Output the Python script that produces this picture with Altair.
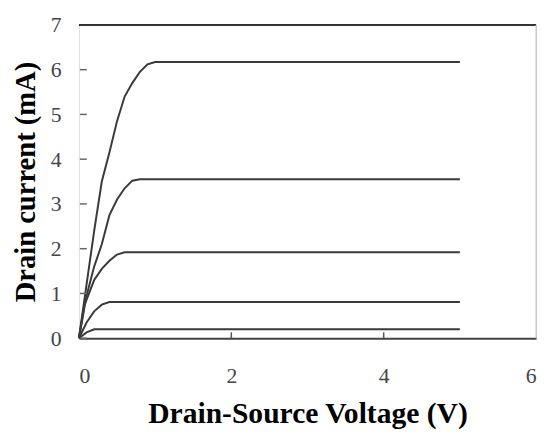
import altair as alt
import pandas as pd

# Curve data (Vds in V, Id in mA)
vds_1 = [0, 0.1, 0.2, 5]
id_1 = [0, 0.13, 0.2, 0.2]
vds_2 = [0, 0.1, 0.2, 0.3, 0.4, 5]
id_2 = [0, 0.35, 0.6, 0.75, 0.81, 0.81]
vds_3 = [0, 0.07, 0.2, 0.3, 0.4, 0.5, 0.6, 5]
id_3 = [0, 0.73, 1.3, 1.55, 1.73, 1.87, 1.92, 1.92]
vds_4 = [0, 0.1, 0.2, 0.3, 0.4, 0.5, 0.6, 0.7, 0.8, 5]
id_4 = [0, 0.95, 1.6, 2.1, 2.75, 3.1, 3.35, 3.52, 3.55, 3.55]
vds_5 = [0, 0.1, 0.2, 0.3, 0.4, 0.5, 0.6, 0.7, 0.8, 0.9, 1.0, 5]
id_5 = [0, 1.2, 2.4, 3.5, 4.15, 4.85, 5.4, 5.7, 5.95, 6.12, 6.17, 6.17]

x_ticks = [0, 2, 4, 6]
y_ticks = [0, 1, 2, 3, 4, 5, 6, 7]
x_inner_ticks = [2, 4]
y_inner_ticks = [0, 1, 2, 3, 4, 5, 6]

rows = []
for k, (xs, ys) in enumerate([(vds_1, id_1), (vds_2, id_2), (vds_3, id_3), (vds_4, id_4), (vds_5, id_5)]):
    for xv, yv in zip(xs, ys):
        rows.append({"curve": k, "vds": xv, "id": yv})
df = pd.DataFrame(rows)

FONT = "Liberation Serif"
xscale = alt.Scale(domain=[0, 6], nice=False, zero=True)
yscale = alt.Scale(domain=[0, 7], nice=False, zero=True)

base = alt.Chart(df)

lines = base.mark_line(color="#3a3a3a", strokeWidth=2).encode(
    x=alt.X("vds:Q", scale=xscale,
            axis=alt.Axis(values=x_ticks, format="d", title="Drain-Source Voltage (V)",
                          grid=False, ticks=False, domain=True,
                          domainColor="#444444", domainWidth=2,
                          labelFont=FONT, labelFontSize=22, labelColor="#444444",
                          labelPadding=28,
                          titleFont=FONT, titleFontSize=30, titleFontWeight="bold",
                          titleColor="#000000", titlePadding=13)),
    y=alt.Y("id:Q", scale=yscale,
            axis=alt.Axis(values=y_ticks, format="d", title="Drain current (mA)",
                          grid=False, ticks=False, domain=False,
                          labelFont=FONT, labelFontSize=22, labelColor="#444444",
                          labelPadding=18,
                          titleFont=FONT, titleFontSize=29, titleFontWeight="bold",
                          titleColor="#000000", titlePadding=10)),
    detail="curve:N",
)

top_line = alt.Chart(pd.DataFrame({"y": [7]})).mark_rule(color="#333333", strokeWidth=2).encode(
    y=alt.Y("y:Q", scale=yscale), x=alt.value(0), x2=alt.value(464)
)
right_line = alt.Chart(pd.DataFrame({"x": [6]})).mark_rule(color="#bbbbbb", strokeWidth=1).encode(
    x=alt.X("x:Q", scale=xscale), y=alt.value(0), y2=alt.value(318)
)
y_tick_marks = alt.Chart(pd.DataFrame({"y": y_inner_ticks})).mark_rule(color="#666666", strokeWidth=1.5).encode(
    y=alt.Y("y:Q", scale=yscale), x=alt.value(1), x2=alt.value(8)
)
x_tick_marks = alt.Chart(pd.DataFrame({"x": x_inner_ticks})).mark_rule(color="#555555", strokeWidth=1.5).encode(
    x=alt.X("x:Q", scale=xscale), y=alt.value(318), y2=alt.value(312)
)

chart = alt.layer(lines, top_line, right_line, y_tick_marks, x_tick_marks).properties(
    width=464, height=318,
    autosize=alt.AutoSizeParams(type="none"),
    padding={"left": 72, "top": 14, "right": 5, "bottom": 90},
).configure_view(stroke=None).configure(background="white")

chart.save("out.html", embed_options={"renderer": "svg", "actions": False})
